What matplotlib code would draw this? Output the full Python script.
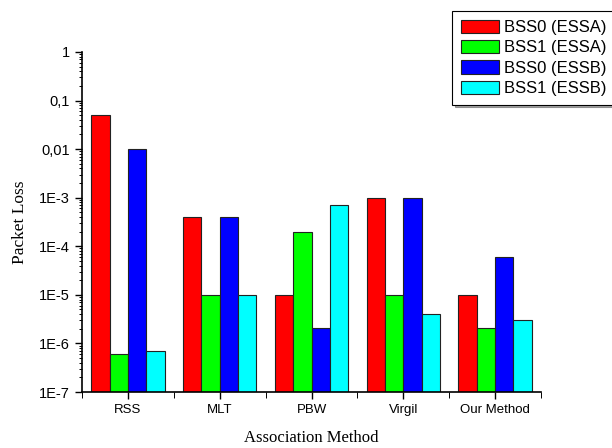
import numpy as np
import matplotlib.pyplot as plt
from matplotlib.ticker import FixedLocator, LogLocator, NullFormatter

methods = ["RSS", "MLT", "PBW", "Virgil", "Our Method"]
bss0_essa = [0.05, 4e-4, 1e-5, 1e-3, 1e-5]
bss1_essa = [5e-7, 1e-5, 2e-4, 1e-5, 2e-6]
bss0_essb = [0.01, 4e-4, 2e-6, 1e-3, 6e-5]
bss1_essb = [6e-7, 1e-5, 7e-4, 4e-6, 3e-6]

series = [
    ("BSS0 (ESSA)", bss0_essa, "#ff0000"),
    ("BSS1 (ESSA)", bss1_essa, "#00ff00"),
    ("BSS0 (ESSB)", bss0_essb, "#0000ff"),
    ("BSS1 (ESSB)", bss1_essb, "#00ffff"),
]
ytick_vals = [1e-7, 1e-6, 1e-5, 1e-4, 1e-3, 1e-2, 1e-1, 1]
ytick_labels = ["1E-7", "1E-6", "1E-5", "1E-4", "1E-3", "0,01", "0,1", "1"]

fig = plt.figure(figsize=(6.12, 4.48), dpi=100)
ax = fig.add_axes([0.134, 0.125, 0.75, 0.759])

x = np.arange(len(methods))
w = 0.2
for i, (name, vals, col) in enumerate(series):
    ax.bar(x + (i - 1.5) * w, vals, w, bottom=1e-7, color=col,
           edgecolor="#222222", linewidth=0.8, label=name)

ax.set_yscale("log")
ax.set_ylim(1e-7, 1)
ax.set_xlim(-0.5, len(methods) - 0.5)
ax.yaxis.set_major_locator(FixedLocator(ytick_vals))
ax.set_yticklabels(ytick_labels, fontfamily="Liberation Sans", fontsize=10.5)
ax.yaxis.set_minor_locator(LogLocator(base=10, subs=np.arange(2, 10), numticks=20))
ax.yaxis.set_minor_formatter(NullFormatter())

ax.set_xticks(x)
ax.set_xticklabels(methods, fontfamily="Liberation Sans", fontsize=9.5)
ax.set_xticks(np.arange(-0.5, len(methods)), minor=True)

ax.tick_params(which="major", direction="out", length=5, width=1)
ax.tick_params(which="minor", direction="out", length=2.5, width=0.7)
ax.tick_params(axis="x", which="minor", length=4)

ax.spines["top"].set_visible(False)
ax.spines["right"].set_visible(False)
ax.spines["left"].set_linewidth(1.2)
ax.spines["bottom"].set_linewidth(1.2)

ax.set_xlabel("Association Method", fontfamily="Liberation Serif", fontsize=12, labelpad=10)
ax.set_ylabel("Packet Loss", fontfamily="Liberation Serif", fontsize=12.5, labelpad=8)

leg = fig.legend(loc="upper left", bbox_to_anchor=(0.739, 0.975),
                 prop={"family": "Liberation Sans", "size": 12},
                 fancybox=False, shadow=True, edgecolor="black",
                 handlelength=2.3, handleheight=0.85, labelspacing=0.3,
                 borderpad=0.5, handletextpad=0.3, borderaxespad=0)
leg.get_frame().set_linewidth(0.8)

plt.savefig("out.png", dpi=100)
